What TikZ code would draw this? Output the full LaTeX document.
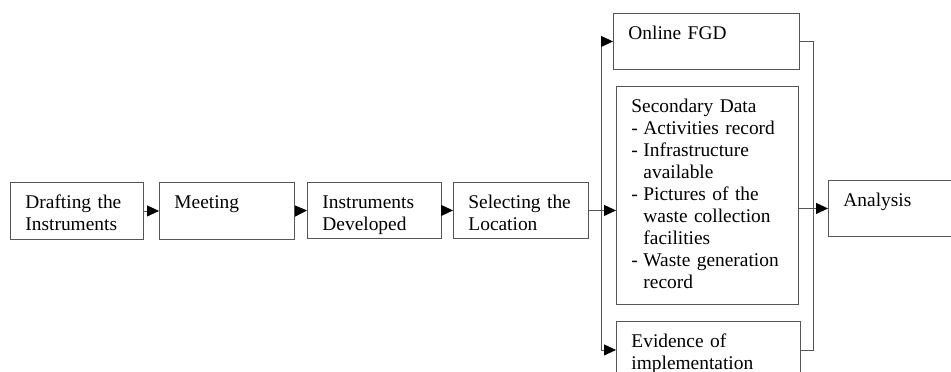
\documentclass[tikz,border=0pt]{standalone}
\usepackage{fontspec}
\setmainfont{Liberation Serif}
\usetikzlibrary{arrows.meta}
\definecolor{ink}{HTML}{000000}
\definecolor{frame}{HTML}{555555}

\begin{document}
\begin{tikzpicture}[x=1pt, y=-1pt,
    line width=0.9pt, >={Triangle[length=12pt,width=11pt,color=black]},
    color=frame,
    box/.style={draw=frame, anchor=north west, inner xsep=15pt, inner ysep=0pt,
                align=left, text=ink, text height=26pt,
                font=\fontsize{19.4}{22}\selectfont}]
  % fixed 951 x 372 canvas, boxes run past the right and bottom edges
  \useasboundingbox (0,0) rectangle (951,372);
  \clip (0,0) rectangle (951,372);

  % ================= main chain =================
  \node[box, text width=103pt, text depth=31pt] (drafting) at (10,182) {Drafting the\\Instruments};
  \node[box, text width=105pt, text depth=31pt] (meeting) at (159,182) {Meeting};
  \node[box, text width=104pt, text depth=30pt] (developed) at (307,182) {Instruments\\Developed};
  \node[box, text width=105pt, text depth=30pt] (location) at (453,182) {Selecting the\\Location};

  % ================= data collection =================
  \node[box, text width=156pt, text depth=30pt] (fgd) at (613,13) {Online FGD};
  \node[box, text width=152pt, text depth=192pt] (secondary) at (616,86)
    {Secondary Data\\
     \makebox[12pt][l]{-}Activities record\\
     \makebox[12pt][l]{-}Infrastructure\\
     \hspace*{12pt}available\\
     \makebox[12pt][l]{-}Pictures of the\\
     \hspace*{12pt}waste collection\\
     \hspace*{12pt}facilities\\
     \makebox[12pt][l]{-}Waste generation\\
     \hspace*{12pt}record};
  \node[box, text width=154pt, text depth=31pt] (evidence) at (616,321) {Evidence of\\implementation};
  \node[box, text width=105pt, text depth=30pt] (analysis) at (828,180) {Analysis};

  \coordinate (split) at (601,212);
  \coordinate (merge) at (813,212);

  % ================= arrows =================
  \draw[->] (drafting.east) -- (meeting.west);
  \draw[->] (meeting.east) -- (developed.west);
  \draw[->] (developed.east) -- (location.west);
  \draw[->] (location.east) -- (location.east -| secondary.west);
  \draw (fgd.west -| split) -- (evidence.west -| split);
  \draw[->] (fgd.west -| split) -- (fgd.west);
  \draw[->] (evidence.west -| split) -- (evidence.west);
  \draw (fgd.east) -| (evidence.east -| merge) -- (evidence.east);
  \draw[->] (analysis.west -| secondary.east) -- (analysis.west);
\end{tikzpicture}
\end{document}
